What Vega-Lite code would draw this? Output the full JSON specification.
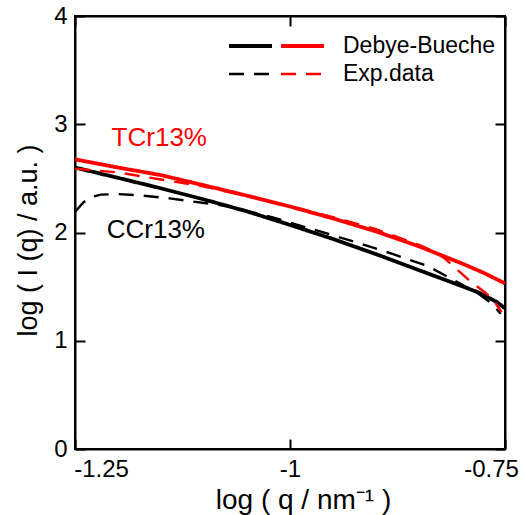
{
  "$schema": "https://vega.github.io/schema/vega-lite/v6.json",
  "width": 430,
  "height": 433,
  "autosize": {"type": "none"},
  "padding": {"left": 75, "top": 16, "right": 20, "bottom": 66},
  "background": "white",
  "config": {
    "view": {"stroke": "black", "strokeWidth": 2},
    "axis": {
      "grid": false,
      "domainColor": "black",
      "domainWidth": 2,
      "tickColor": "black",
      "tickWidth": 2,
      "tickSize": -10,
      "labelFont": "Liberation Sans",
      "labelFontSize": 24,
      "labelColor": "black",
      "titleFont": "Liberation Sans",
      "titleFontSize": 27,
      "titleFontWeight": "normal",
      "titleColor": "black"
    },
    "legend": {
      "orient": "none",
      "symbolType": "M-2,0H2",
      "symbolSize": 462,
      "labelFont": "Liberation Sans",
      "labelFontSize": 23,
      "labelColor": "black",
      "labelOffset": 27.5,
      "rowPadding": 4,
      "padding": 0
    }
  },
  "data": {
    "values": [
      {"sample": "CCr13%", "type": "Debye-Bueche", "x": -1.25, "y": 2.6},
      {"sample": "CCr13%", "type": "Debye-Bueche", "x": -1.2, "y": 2.505},
      {"sample": "CCr13%", "type": "Debye-Bueche", "x": -1.15, "y": 2.408},
      {"sample": "CCr13%", "type": "Debye-Bueche", "x": -1.1, "y": 2.305},
      {"sample": "CCr13%", "type": "Debye-Bueche", "x": -1.05, "y": 2.195},
      {"sample": "CCr13%", "type": "Debye-Bueche", "x": -1.0, "y": 2.07},
      {"sample": "CCr13%", "type": "Debye-Bueche", "x": -0.95, "y": 1.94},
      {"sample": "CCr13%", "type": "Debye-Bueche", "x": -0.9, "y": 1.8},
      {"sample": "CCr13%", "type": "Debye-Bueche", "x": -0.85, "y": 1.652},
      {"sample": "CCr13%", "type": "Debye-Bueche", "x": -0.8, "y": 1.504},
      {"sample": "CCr13%", "type": "Debye-Bueche", "x": -0.78, "y": 1.443},
      {"sample": "CCr13%", "type": "Debye-Bueche", "x": -0.76, "y": 1.36},
      {"sample": "CCr13%", "type": "Debye-Bueche", "x": -0.75, "y": 1.3},
      {"sample": "CCr13%", "type": "Exp.data", "x": -1.25, "y": 2.19},
      {"sample": "CCr13%", "type": "Exp.data", "x": -1.24, "y": 2.28},
      {"sample": "CCr13%", "type": "Exp.data", "x": -1.23, "y": 2.33},
      {"sample": "CCr13%", "type": "Exp.data", "x": -1.22, "y": 2.35},
      {"sample": "CCr13%", "type": "Exp.data", "x": -1.2, "y": 2.355},
      {"sample": "CCr13%", "type": "Exp.data", "x": -1.17, "y": 2.34},
      {"sample": "CCr13%", "type": "Exp.data", "x": -1.14, "y": 2.315},
      {"sample": "CCr13%", "type": "Exp.data", "x": -1.11, "y": 2.283},
      {"sample": "CCr13%", "type": "Exp.data", "x": -1.09, "y": 2.262},
      {"sample": "CCr13%", "type": "Exp.data", "x": -1.07, "y": 2.24},
      {"sample": "CCr13%", "type": "Exp.data", "x": -1.05, "y": 2.2},
      {"sample": "CCr13%", "type": "Exp.data", "x": -1.02, "y": 2.14},
      {"sample": "CCr13%", "type": "Exp.data", "x": -1.0, "y": 2.09},
      {"sample": "CCr13%", "type": "Exp.data", "x": -0.96, "y": 1.998},
      {"sample": "CCr13%", "type": "Exp.data", "x": -0.92, "y": 1.902},
      {"sample": "CCr13%", "type": "Exp.data", "x": -0.88, "y": 1.8},
      {"sample": "CCr13%", "type": "Exp.data", "x": -0.84, "y": 1.69},
      {"sample": "CCr13%", "type": "Exp.data", "x": -0.8, "y": 1.52},
      {"sample": "CCr13%", "type": "Exp.data", "x": -0.78, "y": 1.43},
      {"sample": "CCr13%", "type": "Exp.data", "x": -0.765, "y": 1.34},
      {"sample": "CCr13%", "type": "Exp.data", "x": -0.755, "y": 1.25},
      {"sample": "TCr13%", "type": "Debye-Bueche", "x": -1.25, "y": 2.676},
      {"sample": "TCr13%", "type": "Debye-Bueche", "x": -1.2, "y": 2.6},
      {"sample": "TCr13%", "type": "Debye-Bueche", "x": -1.15, "y": 2.53},
      {"sample": "TCr13%", "type": "Debye-Bueche", "x": -1.1, "y": 2.436},
      {"sample": "TCr13%", "type": "Debye-Bueche", "x": -1.05, "y": 2.34},
      {"sample": "TCr13%", "type": "Debye-Bueche", "x": -1.0, "y": 2.24},
      {"sample": "TCr13%", "type": "Debye-Bueche", "x": -0.95, "y": 2.13},
      {"sample": "TCr13%", "type": "Debye-Bueche", "x": -0.9, "y": 2.01},
      {"sample": "TCr13%", "type": "Debye-Bueche", "x": -0.85, "y": 1.872},
      {"sample": "TCr13%", "type": "Debye-Bueche", "x": -0.8, "y": 1.714},
      {"sample": "TCr13%", "type": "Debye-Bueche", "x": -0.775, "y": 1.628},
      {"sample": "TCr13%", "type": "Debye-Bueche", "x": -0.75, "y": 1.53},
      {"sample": "TCr13%", "type": "Exp.data", "x": -1.25, "y": 2.59},
      {"sample": "TCr13%", "type": "Exp.data", "x": -1.2, "y": 2.555},
      {"sample": "TCr13%", "type": "Exp.data", "x": -1.15, "y": 2.49},
      {"sample": "TCr13%", "type": "Exp.data", "x": -1.1, "y": 2.425},
      {"sample": "TCr13%", "type": "Exp.data", "x": -1.05, "y": 2.335},
      {"sample": "TCr13%", "type": "Exp.data", "x": -1.0, "y": 2.243},
      {"sample": "TCr13%", "type": "Exp.data", "x": -0.95, "y": 2.142},
      {"sample": "TCr13%", "type": "Exp.data", "x": -0.9, "y": 2.03},
      {"sample": "TCr13%", "type": "Exp.data", "x": -0.85, "y": 1.885},
      {"sample": "TCr13%", "type": "Exp.data", "x": -0.83, "y": 1.815},
      {"sample": "TCr13%", "type": "Exp.data", "x": -0.82, "y": 1.76},
      {"sample": "TCr13%", "type": "Exp.data", "x": -0.81, "y": 1.69},
      {"sample": "TCr13%", "type": "Exp.data", "x": -0.8, "y": 1.617},
      {"sample": "TCr13%", "type": "Exp.data", "x": -0.79, "y": 1.545},
      {"sample": "TCr13%", "type": "Exp.data", "x": -0.777, "y": 1.469},
      {"sample": "TCr13%", "type": "Exp.data", "x": -0.765, "y": 1.392},
      {"sample": "TCr13%", "type": "Exp.data", "x": -0.757, "y": 1.3},
      {"sample": "TCr13%", "type": "Exp.data", "x": -0.754, "y": 1.265}
    ]
  },
  "resolve": {
    "axis": {"x": "independent", "y": "independent"},
    "legend": {"strokeDash": "independent", "strokeWidth": "independent"}
  },
  "layer": [
    {
      "transform": [{"filter": "datum.sample === 'CCr13%'"}],
      "mark": {"type": "line", "color": "black", "clip": true},
      "encoding": {
        "x": {
          "field": "x", "type": "quantitative",
          "scale": {"domain": [-1.25, -0.75], "nice": false, "zero": false},
          "axis": {
            "orient": "bottom",
            "values": [-1.25, -1, -0.75],
            "labelFlush": false,
            "labelExpr": "'-' + format(abs(datum.value), '~g')",
            "labelPadding": 18,
            "labelOffset": {"condition": [{"test": "datum.value < -1.1", "value": 26}, {"test": "datum.value > -0.9", "value": -14}], "value": 0},
            "title": "log ( q / nm⁻¹ )",
            "titleFontSize": 28,
            "titleX": 228,
            "titlePadding": 5
          }
        },
        "y": {
          "field": "y", "type": "quantitative",
          "scale": {"domain": [0, 4], "nice": false, "zero": false},
          "axis": {
            "orient": "left",
            "values": [0, 1, 2, 3, 4],
            "format": "d",
            "labelPadding": 18,
            "title": "log ( I (q) / a.u. )",
            "titleY": 224,
            "titlePadding": 11
          }
        },
        "strokeDash": {
          "field": "type", "type": "nominal",
          "scale": {"domain": ["Debye-Bueche", "Exp.data"], "range": [[1, 0], [15, 10]]},
          "legend": {"title": null, "legendX": 162.5, "legendY": 17, "symbolStrokeColor": "black", "labelExpr": "' '"}
        },
        "strokeWidth": {
          "field": "type", "type": "nominal",
          "scale": {"domain": ["Debye-Bueche", "Exp.data"], "range": [3.8, 2.4]},
          "legend": {"title": null, "legendX": 162.5, "legendY": 17, "symbolStrokeColor": "black", "labelExpr": "' '"}
        }
      }
    },
    {
      "transform": [{"filter": "datum.sample === 'TCr13%'"}],
      "mark": {"type": "line", "color": "#ff0000", "clip": true},
      "encoding": {
        "x": {"field": "x", "type": "quantitative", "scale": {"domain": [-1.25, -0.75], "nice": false, "zero": false}, "axis": null},
        "y": {"field": "y", "type": "quantitative", "scale": {"domain": [0, 4], "nice": false, "zero": false}, "axis": null},
        "strokeDash": {
          "field": "type", "type": "nominal",
          "scale": {"domain": ["Debye-Bueche", "Exp.data"], "range": [[1, 0], [15, 10]]},
          "legend": {"title": null, "legendX": 214.5, "legendY": 17, "symbolStrokeColor": "#ff0000"}
        },
        "strokeWidth": {
          "field": "type", "type": "nominal",
          "scale": {"domain": ["Debye-Bueche", "Exp.data"], "range": [3.8, 2.4]},
          "legend": {"title": null, "legendX": 214.5, "legendY": 17, "symbolStrokeColor": "#ff0000"}
        }
      }
    },
    {
      "data": {
        "values": [
          {"label": "TCr13%", "sample": "TCr13%", "x": -1.152, "y": 2.873},
          {"label": "CCr13%", "sample": "CCr13%", "x": -1.156, "y": 2.023}
        ]
      },
      "mark": {"type": "text", "font": "Liberation Sans", "fontSize": 26, "align": "center", "baseline": "middle"},
      "encoding": {
        "x": {
          "field": "x", "type": "quantitative",
          "scale": {"domain": [-1.25, -0.75], "nice": false, "zero": false},
          "axis": {"orient": "top", "values": [-1.25, -1, -0.75], "labels": false, "title": null}
        },
        "y": {
          "field": "y", "type": "quantitative",
          "scale": {"domain": [0, 4], "nice": false, "zero": false},
          "axis": {"orient": "right", "values": [0, 1, 2, 3, 4], "labels": false, "title": null}
        },
        "text": {"field": "label"},
        "color": {"field": "sample", "type": "nominal", "scale": {"domain": ["CCr13%", "TCr13%"], "range": ["black", "#ff0000"]}, "legend": null}
      }
    }
  ]
}
